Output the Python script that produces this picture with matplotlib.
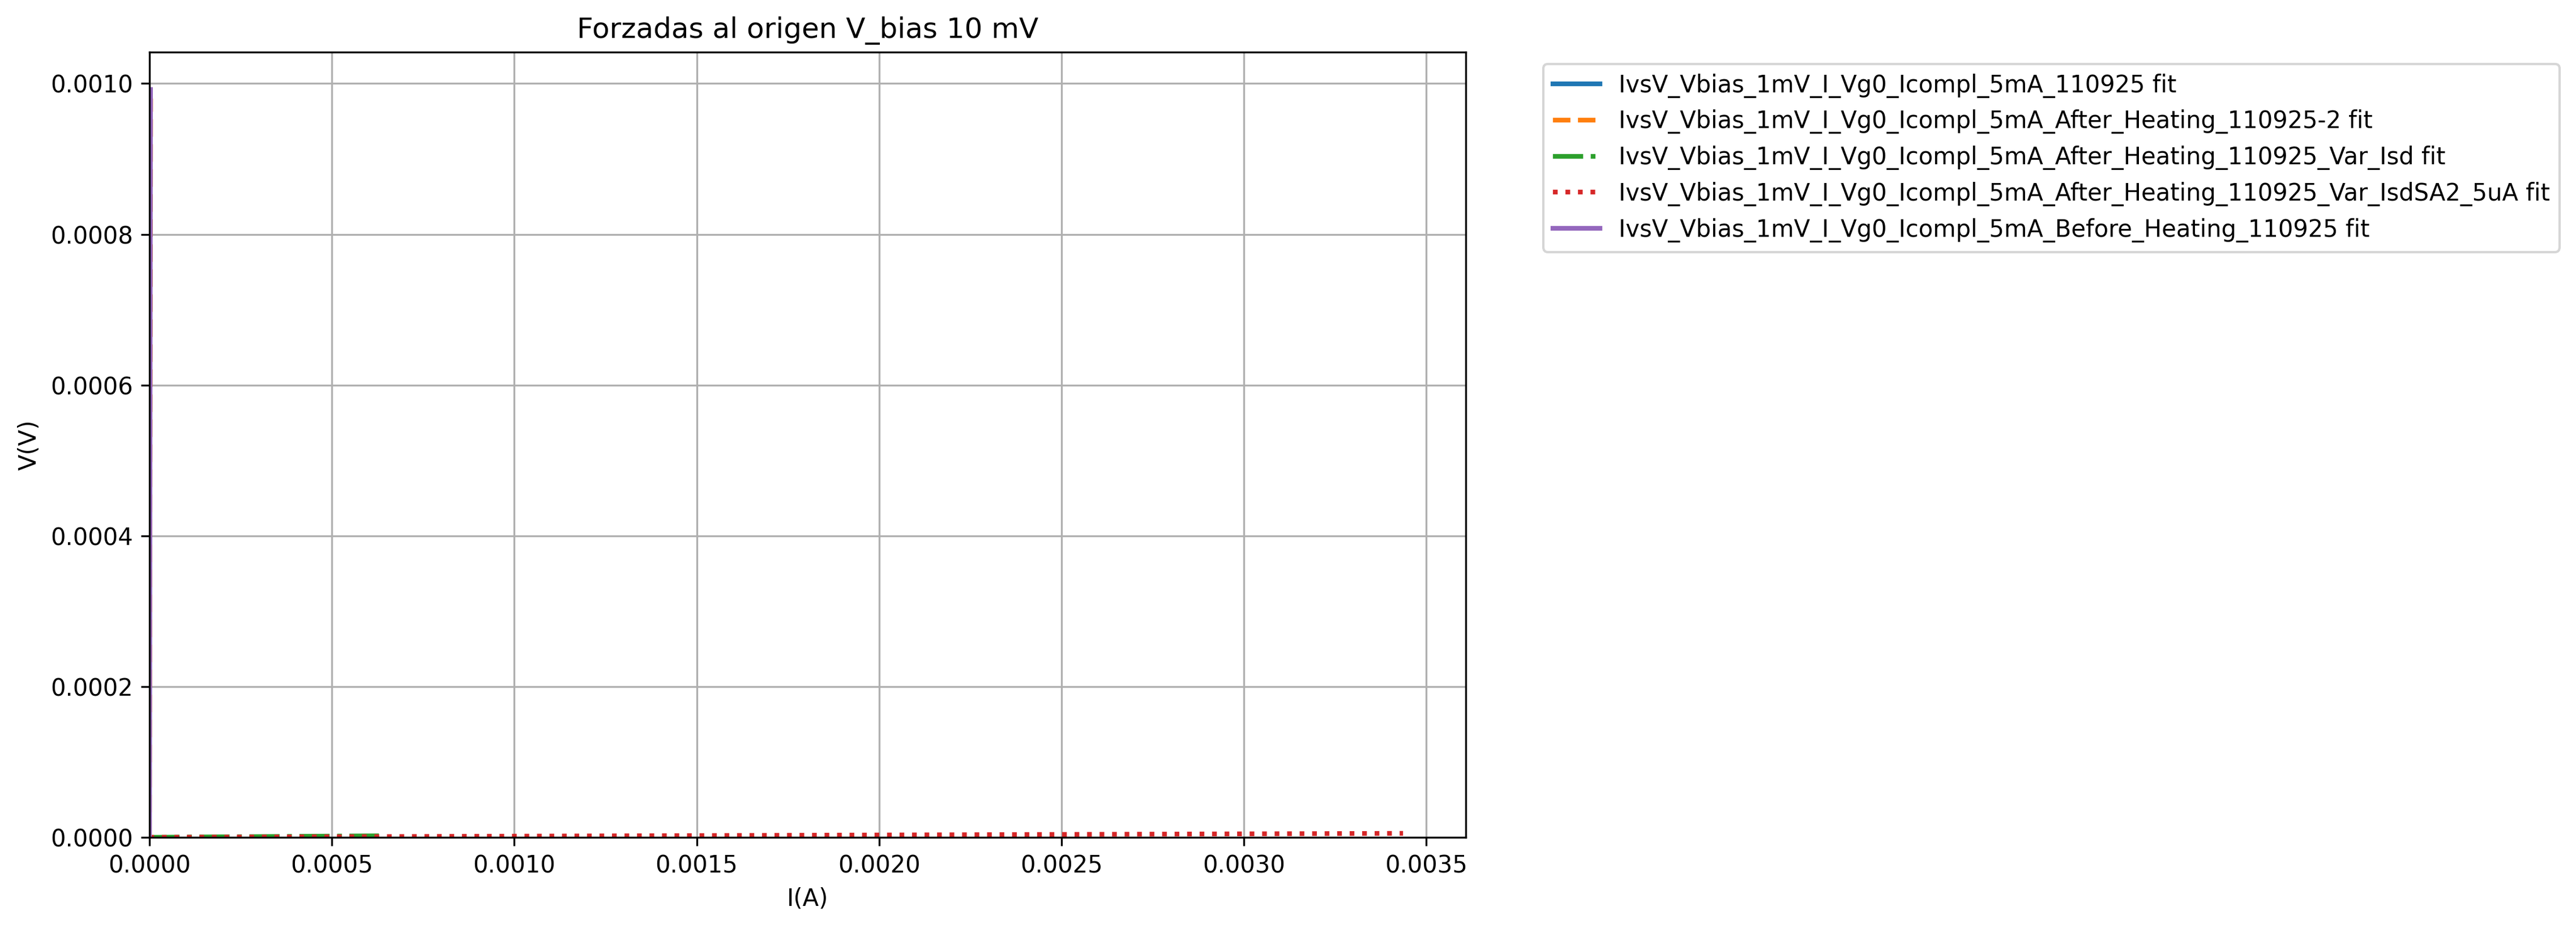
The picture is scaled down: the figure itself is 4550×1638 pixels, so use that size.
import matplotlib
matplotlib.use("Agg")
import matplotlib.pyplot as plt

# fits forced through the origin: (I, V) end points of each line
labels = [
    "IvsV_Vbias_1mV_I_Vg0_Icompl_5mA_110925 fit",
    "IvsV_Vbias_1mV_I_Vg0_Icompl_5mA_After_Heating_110925-2 fit",
    "IvsV_Vbias_1mV_I_Vg0_Icompl_5mA_After_Heating_110925_Var_Isd fit",
    "IvsV_Vbias_1mV_I_Vg0_Icompl_5mA_After_Heating_110925_Var_IsdSA2_5uA fit",
    "IvsV_Vbias_1mV_I_Vg0_Icompl_5mA_Before_Heating_110925 fit",
]
I_blue = [0.0, 1e-6]
V_blue = [0.0, 0.00097]
I_orange = [0.0, 3.5e-6]
V_orange = [0.0, 0.00098]
I_green = [0.0, 0.000629]
V_green = [0.0, 2.0e-6]
I_red = [0.0, 0.003436]
V_red = [0.0, 5.3e-6]
I_purple = [0.0, 3e-6]
V_purple = [0.0, 0.000992]

series = [(I_blue, V_blue), (I_orange, V_orange), (I_green, V_green),
          (I_red, V_red), (I_purple, V_purple)]
styles = ["-", "--", "-.", ":", "-"]

fig = plt.figure(figsize=(4550 / 300, 1638 / 300), dpi=300)
ax = fig.add_axes([0.058, 0.0977, 0.511, 0.8461])

for (I, V), ls, lab in zip(series, styles, labels):
    ax.plot(I, V, linestyle=ls, linewidth=2, label=lab)

ax.set_xlim(left=0)
ax.set_ylim(bottom=0)
ax.set_xlabel("I(A)")
ax.set_ylabel("V(V)")
ax.set_title("Forzadas al origen V_bias 10 mV")
ax.grid(True)
ax.legend(bbox_to_anchor=(1.05, 1), loc="upper left")

fig.savefig("out.png", dpi=300)
